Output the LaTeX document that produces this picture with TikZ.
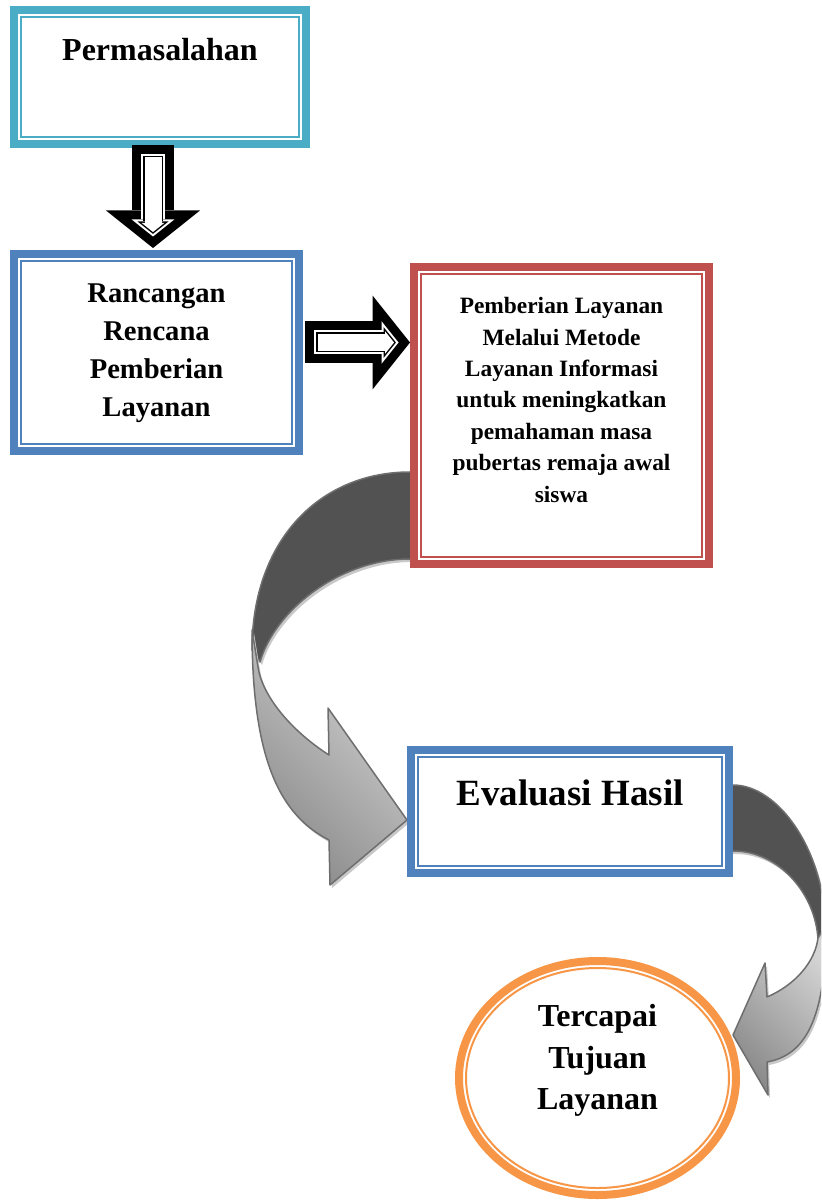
\documentclass[tikz,border=0pt]{standalone}
\usepackage{fontspec}
\setmainfont{Liberation Serif}
\usetikzlibrary{shapes.geometric,arrows.meta,positioning,calc}
\definecolor{cTeal}{HTML}{4BACC6}
\definecolor{cBlue}{HTML}{4F81BD}
\definecolor{cRed}{HTML}{C0504D}
\definecolor{cOrange}{HTML}{F79646}
\definecolor{cBack}{HTML}{525252}
\definecolor{cEdge}{HTML}{6E6E6E}
\definecolor{cShadow}{HTML}{C8C8C8}
\definecolor{cLight}{HTML}{D4D4D4}
\definecolor{cDark}{HTML}{8A8A8A}
\tikzset{
  frame/.style  ={rectangle, draw=#1, fill=white, line width=4pt, inner sep=0pt, outer sep=0pt,
                  path picture={\draw[#1, line width=1pt]
                    ([shift={(3.5pt,-3.5pt)}]path picture bounding box.north west) rectangle
                    ([shift={(-3.5pt,3.5pt)}]path picture bounding box.south east);}},
  ring/.style   ={ellipse, draw=#1, fill=white, line width=4pt, inner sep=0pt, outer sep=0pt,
                  path picture={\draw[#1, line width=1pt]
                    (path picture bounding box.center) ellipse [x radius=65.75pt, y radius=55pt];}},
  bigtxt/.style ={font=\bfseries\fontsize{16}{20}\selectfont, align=center, inner sep=0pt},
  midtxt/.style ={font=\bfseries\fontsize{14.3}{19}\selectfont, align=center, inner sep=0pt},
  smalltxt/.style={font=\bfseries\fontsize{11.7}{15.7}\selectfont, align=center, inner sep=0pt},
  hugetxt/.style={font=\bfseries\fontsize{18.5}{22}\selectfont, align=center, inner sep=0pt},
  circtxt/.style={font=\bfseries\fontsize{16}{20.8}\selectfont, align=center, inner sep=0pt},
  % hollow block arrow, drawn in four layers
  hA/.style={draw=black, line width=21pt, -{Triangle[length=18.75pt,width=47pt,line width=0pt]}},
  hB/.style={draw=white, line width=12pt, -{Triangle[length=8.5pt,width=21.3pt,line width=0pt]},
             shorten <=4.5pt, shorten >=5.75pt},
  hC/.style={draw=black, line width=10pt, -{Triangle[length=6.2pt,width=15.5pt,line width=0pt]},
             shorten <=5.5pt, shorten >=7.05pt},
  hD/.style={draw=white, line width=8.5pt, -{Triangle[length=4.5pt,width=11.3pt,line width=0pt]},
             shorten <=6.25pt, shorten >=8pt},
  ribbon/.style={draw=cEdge, line width=0.75pt, line join=round,
                 preaction={fill=cShadow, draw=none, transform canvas={xshift=1pt, yshift=-1.5pt}}},
  front/.style={top color=cLight, bottom color=cDark, shading angle=-45},
}
\begin{document}
\begin{tikzpicture}[x=0.5pt, y=-0.5pt]
  \useasboundingbox (0,0) rectangle (821,1202);
  \clip (0,0) rectangle (821,1202);
  % curved arrows (behind the boxes)
  \path[ribbon, fill=cBack] (416,472) -- (410,472) .. controls (320,472) and (252,540) .. (252,650)
    -- (260,662) .. controls (275,610) and (340,559) .. (410,559) -- (416,559) -- cycle;
  \path[ribbon, front] (252,630) .. controls (252,760) and (280,815) .. (329,840) -- (330,885)
    -- (407,820) -- (328,708) -- (329,755) .. controls (290,730) and (262,695) .. (258,667) -- cycle;
  \path[ribbon, fill=cBack] (726,785) -- (733,785) .. controls (778,785) and (826,850) .. (826,935)
    -- (818,940) .. controls (816,895) and (780,851) .. (733,851) -- (726,851) -- cycle;
  \path[ribbon, front] (826,925) .. controls (826,1020) and (805,1055) .. (767,1062) -- (768,1095)
    -- (733,1035) -- (765,963) -- (767,997) .. controls (795,985) and (815,962) .. (818,938) -- cycle;
  % boxes
  \node[frame=cTeal, minimum width=146pt, minimum height=67pt] (masalah) at (160,77) {};
  \node[frame=cBlue, minimum width=142.5pt, minimum height=98.5pt] (rancangan) at (156.5,352.5) {};
  \node[frame=cRed, minimum width=147.5pt, minimum height=148.5pt] (layanan) at (561.5,415.5) {};
  \node[frame=cBlue, minimum width=159pt, minimum height=61.5pt] (evaluasi) at (570,811.5) {};
  \node[ring=cOrange, minimum width=138.5pt, minimum height=117pt] (tujuan) at (597.5,1078) {};
  % texts
  \node[bigtxt, below=13.75pt of masalah.north] (masalahtxt) {Permasalahan};
  \node[midtxt, below=14.5pt of rancangan.north] (rancangantxt) {Rancangan\\Rencana\\Pemberian\\Layanan};
  \node[smalltxt, below=15pt of layanan.north] (layanantxt) {Pemberian Layanan\\Melalui Metode\\Layanan Informasi\\untuk meningkatkan\\pemahaman masa\\pubertas remaja awal\\siswa};
  \node[hugetxt, below=14.5pt of evaluasi.north] (evaluasitxt) {Evaluasi Hasil};
  \node[circtxt, below=21.5pt of tujuan.north] (tujuantxt) {Tercapai\\Tujuan\\Layanan};
  % hollow block arrows
  \draw[hA] ($(masalah.south)+(-7,1)$) -- ($(rancangan.north)+(-3.5,-6)$);
  \draw[hB] ($(masalah.south)+(-7,1)$) -- ($(rancangan.north)+(-3.5,-6)$);
  \draw[hC] ($(masalah.south)+(-7,1)$) -- ($(rancangan.north)+(-3.5,-6)$);
  \draw[hD] ($(masalah.south)+(-7,1)$) -- ($(rancangan.north)+(-3.5,-6)$);
  \draw[hA] ($(rancangan.east)+(6,-10)$) -- ($(layanan.west)+(-4,-73)$);
  \draw[hB] ($(rancangan.east)+(6,-10)$) -- ($(layanan.west)+(-4,-73)$);
  \draw[hC] ($(rancangan.east)+(6,-10)$) -- ($(layanan.west)+(-4,-73)$);
  \draw[hD] ($(rancangan.east)+(6,-10)$) -- ($(layanan.west)+(-4,-73)$);
\end{tikzpicture}
\end{document}
